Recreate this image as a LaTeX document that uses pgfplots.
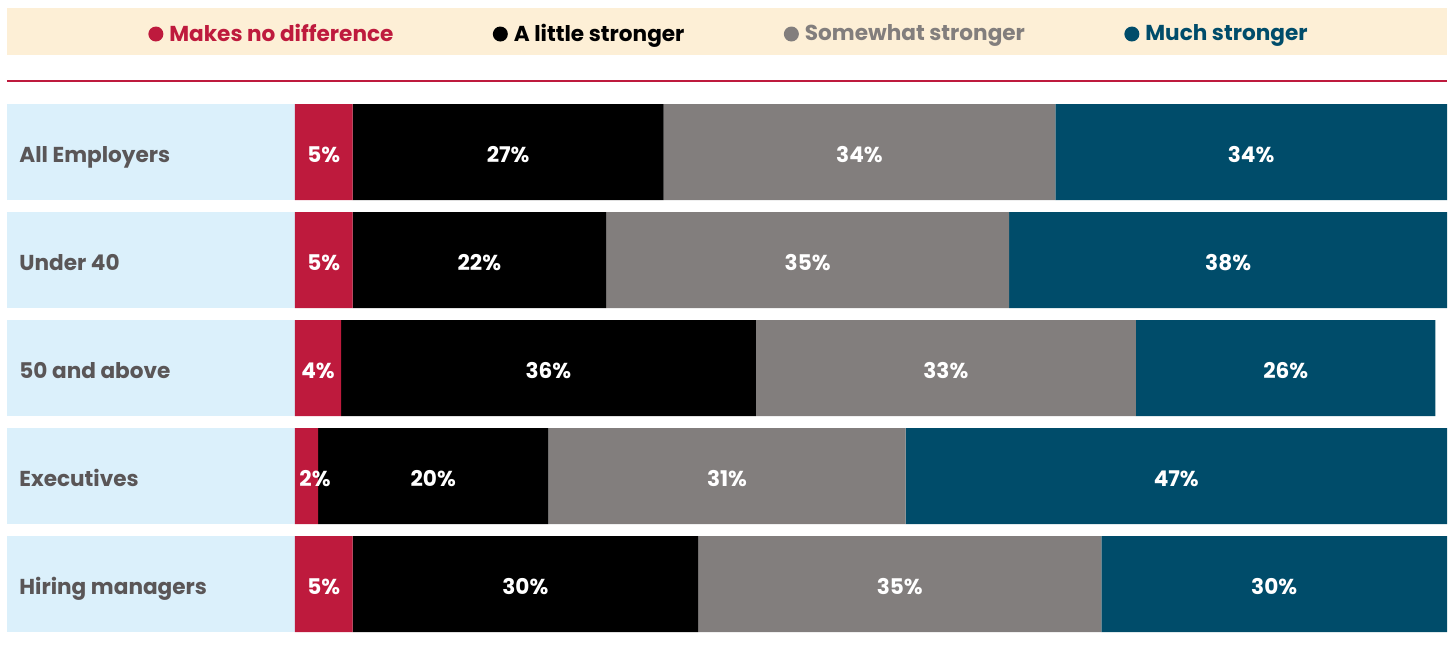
\documentclass[border=0pt]{standalone}
\usepackage{pgfplots}
\usepackage{pgfplotstable}
\usepackage{fontspec}
\pgfplotsset{compat=1.18}
\setmainfont{Poppins}

\definecolor{redc}{HTML}{BE1A3D}
\definecolor{blackc}{HTML}{000000}
\definecolor{grayc}{HTML}{827E7D}
\definecolor{tealc}{HTML}{004C6A}
\definecolor{beige}{HTML}{FDEFD6}
\definecolor{lightblue}{HTML}{DBF0FB}
\definecolor{labgray}{HTML}{5A5657}

% Share of respondents per group (percent)
\pgfplotstableread{
row nodiff little somewhat much
0   5      27     34       34
1   5      22     35       38
2   4      36     33       26
3   2      20     31       47
4   5      30     35       30
}\shares

\newcommand{\chartfont}{\bfseries\fontsize{10.8}{12}\selectfont}

\begin{document}
\begin{tikzpicture}
\useasboundingbox (-147.5pt,-5.5pt) rectangle (577.5pt,319pt);
% light panels behind the group names (rows are 54pt apart, bars 48pt tall)
\foreach \r in {0,...,4} {
  \fill[lightblue] (-144pt,{243pt-54pt*\r-24pt}) rectangle (0pt,{243pt-54pt*\r+24pt});
}
\begin{axis}[
  xbar stacked,
  scale only axis,
  width=576pt, height=270pt,
  xmin=0, xmax=100,
  ymin=-0.5, ymax=4.5,
  y dir=reverse,
  bar width=48pt,
  clip=false,
  axis line style={draw=none},
  major tick length=0pt,
  xtick=\empty,
  ytick={0,1,2,3,4},
  yticklabels={All Employers, Under 40, 50 and above, Executives, Hiring managers},
  yticklabel style={anchor=base west, xshift=-138pt, yshift=-5pt, inner sep=0pt,
    text=labgray, font=\chartfont},
  point meta=explicit symbolic,
  nodes near coords={\pgfplotspointmeta\%},
  % values sit in the middle of their segment; a very narrow segment's label
  % is nudged right so that it stays inside the row
  every node near coord/.append style={anchor=base, text=white, font=\chartfont,
    inner sep=0pt, yshift=-5pt,
    xshift={max(0,10-2.88*\pgfplotspointmeta)}},
  legend columns=4,
  legend cell align=left,
  legend style={at={(0.3776,1.1185)}, anchor=center, draw=none, fill=none,
    font=\chartfont,
    /tikz/every even column/.append style={column sep=47.7pt},
    /tikz/every odd column/.append style={column sep=1pt}},
]
% header band and rule
\fill[beige] (axis cs:-25,-1.3333) rectangle (axis cs:100,-0.898);
\draw[redc, line width=1.25pt] (axis cs:-25,-0.657) -- (axis cs:100,-0.657);

\addplot[fill=redc, draw=none,
  legend image code/.code={\fill[redc] (3.75pt,0pt) circle (3.75pt);}]
  table[x=nodiff, y=row, meta=nodiff] {\shares};
\addlegendentry{\textcolor{redc}{Makes no difference}}

\addplot[fill=blackc, draw=none,
  legend image code/.code={\fill[blackc] (3.75pt,0pt) circle (3.75pt);}]
  table[x=little, y=row, meta=little] {\shares};
\addlegendentry{\textcolor{blackc}{A little stronger}}

\addplot[fill=grayc, draw=none,
  legend image code/.code={\fill[grayc] (3.75pt,0pt) circle (3.75pt);}]
  table[x=somewhat, y=row, meta=somewhat] {\shares};
\addlegendentry{\textcolor{grayc}{Somewhat stronger}}

\addplot[fill=tealc, draw=none,
  legend image code/.code={\fill[tealc] (3.75pt,0pt) circle (3.75pt);}]
  table[x=much, y=row, meta=much] {\shares};
\addlegendentry{\textcolor{tealc}{Much stronger}}
\end{axis}
\end{tikzpicture}
\end{document}
